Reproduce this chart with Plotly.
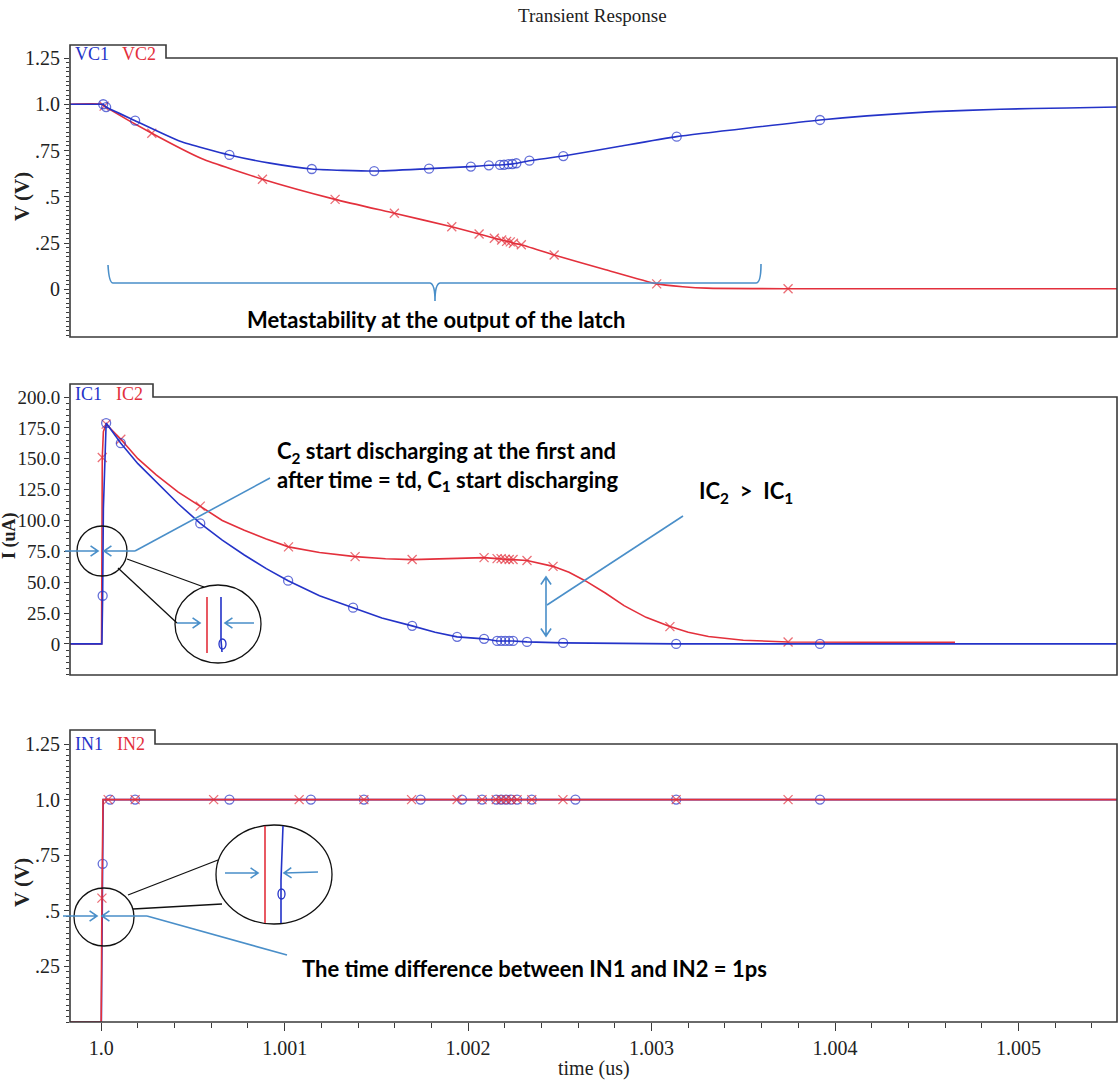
import math
import plotly.graph_objects as go

W, H = 1118, 1081

# ---------------- waveforms (time in us) ----------------
# Latch outputs VC1 / VC2 (V); *_mark flags the points that carry a marker
t_vc1 = [0.99983, 1.0, 1.000011, 1.000027, 1.000185, 1.00043, 1.000699, 1.00092,
         1.001148, 1.001488, 1.001787, 1.002015, 1.002113, 1.002174, 1.002196,
         1.00222, 1.002241, 1.002263, 1.002334, 1.002519, 1.00282, 1.003137,
         1.003918, 1.004174, 1.004534, 1.004899, 1.005264, 1.005537]
vc1 = [1.0, 1.0, 1.0, 0.985, 0.911, 0.80, 0.726, 0.682,
       0.650, 0.639, 0.652, 0.663, 0.670, 0.672, 0.673,
       0.676, 0.677, 0.681, 0.695, 0.720, 0.772, 0.825,
       0.915, 0.937, 0.960, 0.973, 0.980, 0.985]
vc1_mark = [0, 0, 1, 1, 1, 0, 1, 0,
            1, 1, 1, 1, 1, 1, 1,
            1, 1, 1, 1, 1, 0, 1,
            1, 0, 0, 0, 0, 0]

t_vc2 = [0.99983, 1.0, 1.000016, 1.000276, 1.00055, 1.000879, 1.001275, 1.001598,
         1.001911, 1.00206, 1.002143, 1.002183, 1.00221, 1.00223, 1.002247,
         1.00229, 1.002469, 1.00275, 1.003028, 1.00317, 1.0033, 1.003744, 1.005537]
vc2 = [1.0, 1.0, 0.99, 0.843, 0.705, 0.595, 0.486, 0.411,
       0.338, 0.299, 0.276, 0.266, 0.259, 0.256, 0.249,
       0.241, 0.185, 0.105, 0.029, 0.014, 0.006, 0.003, 0.003]
vc2_mark = [0, 0, 1, 1, 0, 1, 1, 1,
            1, 1, 1, 1, 1, 1, 1,
            1, 1, 0, 1, 0, 0, 1, 0]

# Capacitor currents IC1 / IC2 (uA)
t_ic1 = [0.99983, 1.000004, 1.000008, 1.000012, 1.000027, 1.000107, 1.00020, 1.00030,
         1.00042, 1.00054, 1.00066, 1.00078, 1.0009, 1.001019, 1.00119, 1.001373,
         1.00153, 1.001695, 1.00182, 1.00194, 1.002087, 1.002158, 1.00218, 1.002202,
         1.002224, 1.002245, 1.002321, 1.002518, 1.003134, 1.003918, 1.005537]
ic1 = [0, 0, 39, 110, 178.9, 162.6, 146, 131,
       113.5, 97.6, 84, 72, 61, 51.2, 39, 29.3,
       21, 14.6, 9.5, 5.7, 4.1, 2.4, 2.4, 2.4,
       2.4, 2.4, 1.6, 0.8, 0, 0, 0]
ic1_mark = [0, 0, 1, 0, 1, 1, 0, 0,
            0, 1, 0, 0, 0, 1, 0, 1,
            0, 1, 0, 1, 1, 1, 1, 1,
            1, 1, 1, 1, 1, 1, 0]

t_ic2 = [0.99983, 1.000002, 1.000006, 1.000012, 1.000027, 1.000107, 1.00020, 1.00030,
         1.00042, 1.00054, 1.00066, 1.00078, 1.0009, 1.001021, 1.00119, 1.001384,
         1.00155, 1.001695, 1.0019, 1.002087, 1.002158, 1.00218, 1.002202, 1.002224,
         1.002245, 1.002321, 1.002463, 1.00255, 1.00264, 1.00275, 1.00285, 1.00297,
         1.0031, 1.0032, 1.00331, 1.0035, 1.003744, 1.004654]
ic2 = [0, 0, 151, 172, 178, 165.8, 150, 137,
       123, 111.6, 100, 92, 85, 78.6, 74, 70.7,
       69, 68.3, 69, 69.9, 69.1, 69.1, 68.6, 68.3,
       68.3, 67.5, 62.8, 58, 51, 41, 31, 21.5,
       14, 9.5, 6, 3, 1.5, 1.2]
ic2_mark = [0, 0, 1, 0, 1, 1, 0, 0,
            0, 1, 0, 0, 0, 1, 0, 1,
            0, 1, 0, 1, 1, 1, 1, 1,
            1, 1, 1, 0, 0, 0, 0, 0,
            1, 0, 0, 0, 1, 0]

# Latch inputs IN1 / IN2 (V)
t_in1 = [0.99983, 1.000001, 1.000008, 1.000011, 1.000049, 1.000185, 1.000699,
         1.001143, 1.001432, 1.001741, 1.001967, 1.002076, 1.002153, 1.00218,
         1.002207, 1.002234, 1.002267, 1.002347, 1.002585, 1.003134, 1.003918,
         1.005537]
in1 = [0, 0, 0.711, 1.0, 1.0, 1.0, 1.0,
       1.0, 1.0, 1.0, 1.0, 1.0, 1.0, 1.0,
       1.0, 1.0, 1.0, 1.0, 1.0, 1.0, 1.0,
       1.0]
in1_mark = [0, 0, 1, 0, 1, 1, 1,
            1, 1, 1, 1, 1, 1, 1,
            1, 1, 1, 1, 1, 1, 1,
            0]

t_in2 = [0.99983, 1.0, 1.000004, 1.00001, 1.000038, 1.000185, 1.000613,
         1.001079, 1.001432, 1.001692, 1.00194, 1.002076, 1.002153, 1.00218,
         1.002207, 1.002234, 1.002267, 1.002347, 1.002517, 1.003134, 1.003744,
         1.005537]
in2 = [0, 0, 0.557, 1.0, 1.0, 1.0, 1.0,
       1.0, 1.0, 1.0, 1.0, 1.0, 1.0, 1.0,
       1.0, 1.0, 1.0, 1.0, 1.0, 1.0, 1.0,
       1.0]
in2_mark = [0, 0, 1, 0, 1, 1, 1,
            1, 1, 1, 1, 1, 1, 1,
            1, 1, 1, 1, 1, 1, 1,
            0]

# axis ticks
x_ticks = [1.0, 1.001, 1.002, 1.003, 1.004, 1.005]
x_ticktext = ["1.0", "1.001", "1.002", "1.003", "1.004", "1.005"]
v_ticks = [0, 0.25, 0.5, 0.75, 1.0, 1.25]
v_ticktext = ["0", ".25", ".5", ".75", "1.0", "1.25"]
i_ticks = [0, 25, 50, 75, 100, 125, 150, 175, 200]
i_ticktext = ["0", "25.0", "50.0", "75.0", "100.0", "125.0", "150.0", "175.0", "200.0"]
in_ticks = [0.25, 0.5, 0.75, 1.0, 1.25]
in_ticktext = [".25", ".5", ".75", "1.0", "1.25"]

# ---------------- styling ----------------
BLUE = "#2433c8"
RED = "#e3303c"
NOTE = "#4a8fc9"
FRAME = "#3a3a3a"
SERIF = "Liberation Serif"
SANS = "Lato"

X_LEFT, X_RIGHT = 70, 1117
# (top, bottom, tab_top, tab_right) of each plot box, in pixels
BOXES = [(58, 337, 45, 166), (397, 675, 384, 153), (744, 1022, 730, 155)]
X_RANGE = [0.99983, 1.005537]


def pp(x, y):
    """pixel position -> paper coordinates"""
    return x / W, 1 - y / H


def pstr(x, y):
    X, Y = pp(x, y)
    return f"{X:.5f},{Y:.5f}"


def arrow_path(x0, y0, x1, y1, head=9, spread=0.6, both=False):
    def head_at(xa, ya, xb, yb):
        ang = math.atan2(yb - ya, xb - xa)
        w1 = (xb - head * math.cos(ang + spread), yb - head * math.sin(ang + spread))
        w2 = (xb - head * math.cos(ang - spread), yb - head * math.sin(ang - spread))
        return f" M {pstr(*w1)} L {pstr(xb, yb)} L {pstr(*w2)}"
    d = f"M {pstr(x0, y0)} L {pstr(x1, y1)}" + head_at(x0, y0, x1, y1)
    if both:
        d += head_at(x1, y1, x0, y0)
    return d


def polyline(points):
    return "M " + " L ".join(pstr(x, y) for x, y in points)


def trace(t, v, mark, color, symbol, axis, shape="spline"):
    return go.Scatter(
        x=t, y=v, mode="lines+markers", xaxis="x" + axis, yaxis="y" + axis,
        line=dict(color=color, width=1.6, shape=shape, smoothing=0.5),
        marker=dict(symbol=symbol, size=[9 if m else 0 for m in mark],
                    color=color, line=dict(color=color, width=1.3)),
        showlegend=False, hoverinfo="skip",
    )


fig = go.Figure()
fig.add_trace(trace(t_vc2, vc2, vc2_mark, RED, "x-thin-open", ""))
fig.add_trace(trace(t_vc1, vc1, vc1_mark, BLUE, "circle-open", ""))
fig.add_trace(trace(t_ic2, ic2, ic2_mark, RED, "x-thin-open", "2", shape="linear"))
fig.add_trace(trace(t_ic1, ic1, ic1_mark, BLUE, "circle-open", "2", shape="linear"))
fig.add_trace(trace(t_in1, in1, in1_mark, BLUE, "circle-open", "3", shape="linear"))
fig.add_trace(trace(t_in2, in2, in2_mark, RED, "x-thin-open", "3", shape="linear"))

tickfont = dict(family=SERIF, size=20, color="#222")
x_dom = [X_LEFT / W, X_RIGHT / W]


def ydom(i):
    top, bottom = BOXES[i][0], BOXES[i][1]
    return [1 - bottom / H, 1 - top / H]


common_x = dict(domain=x_dom, range=X_RANGE, showgrid=False, zeroline=False,
                showline=False, automargin=False)
common_y = dict(showgrid=False, zeroline=False, showline=False, automargin=False,
                ticks="outside", ticklen=5, tickwidth=1.2, tickcolor=FRAME,
                tickfont=tickfont, tickmode="array")

fig.update_layout(
    width=W, height=H, margin=dict(l=0, r=0, t=0, b=0),
    paper_bgcolor="white", plot_bgcolor="white",
    xaxis=dict(anchor="y", showticklabels=False, ticks="", **common_x),
    xaxis2=dict(anchor="y2", showticklabels=False, ticks="", **common_x),
    xaxis3=dict(anchor="y3", tickmode="array", tickvals=x_ticks, ticktext=x_ticktext,
                ticks="outside", ticklen=8, tickwidth=1.2, tickcolor=FRAME,
                tickfont=tickfont,
                minor=dict(tickmode="linear", tick0=1.0, dtick=0.0002, ticks="outside",
                           ticklen=5, tickcolor=FRAME, tickwidth=1),
                **common_x),
    yaxis=dict(anchor="x", domain=ydom(0), range=[-0.258, 1.25],
               tickvals=v_ticks, ticktext=v_ticktext,
               minor=dict(tickmode="linear", tick0=0, dtick=0.025, ticks="outside",
                          ticklen=3, tickcolor=FRAME),
               **common_y),
    yaxis2=dict(anchor="x2", domain=ydom(1), range=[-25.2, 200],
                tickvals=i_ticks, ticktext=i_ticktext,
                minor=dict(tickmode="linear", tick0=0, dtick=5, ticks="outside",
                           ticklen=3, tickcolor=FRAME),
                **{**common_y, "tickfont": dict(family=SERIF, size=19, color="#222")}),
    yaxis3=dict(anchor="x3", domain=ydom(2), range=[0, 1.25],
                tickvals=in_ticks, ticktext=in_ticktext,
                minor=dict(tickmode="linear", tick0=0, dtick=0.025, ticks="outside",
                           ticklen=3, tickcolor=FRAME),
                **common_y),
)

shapes = []
annotations = []

# plot frames with the signal-name tab on the upper left
for top, bottom, tab_top, tab_right in BOXES:
    shapes.append(dict(
        type="path", xref="paper", yref="paper", layer="above",
        path=polyline([(X_LEFT, tab_top), (tab_right, tab_top), (tab_right, top),
                       (X_RIGHT, top), (X_RIGHT, bottom), (X_LEFT, bottom)]) + " Z",
        line=dict(color=FRAME, width=1.6)))


def text(x, y, s, size, color="black", family=SERIF, weight="normal",
         xanchor="center", angle=0, align="center"):
    X, Y = pp(x, y)
    annotations.append(dict(
        x=X, y=Y, xref="paper", yref="paper", text=s, showarrow=False,
        xanchor=xanchor, yanchor="middle", textangle=angle, align=align,
        font=dict(family=family, size=size, color=color, weight=weight)))


# titles
text(592, 16, "Transient Response", 19, "#222")
text(594, 1068, "time (us)", 20, "#222")
text(22, 197, "V (V)", 21, "#222", weight="bold", angle=-90)
text(9, 536, "I (uA)", 18, "#222", weight="bold", angle=-90)
text(22, 883, "V (V)", 21, "#222", weight="bold", angle=-90)

# signal names inside the tabs
text(92, 54, "VC1", 18, BLUE)
text(139, 54, "VC2", 18, RED)
text(88, 394, "IC1", 18, BLUE)
text(129, 394, "IC2", 18, RED)
text(89, 744, "IN1", 18, BLUE)
text(131, 744, "IN2", 18, RED)

note_line = dict(color=NOTE, width=1.6)
black_line = dict(color="#111", width=1.3)


def path_shape(d, line):
    shapes.append(dict(type="path", xref="paper", yref="paper", path=d, line=line,
                       layer="above"))


def ellipse(cx, cy, rx, ry, line=black_line):
    x0, y0 = pp(cx - rx, cy + ry)
    x1, y1 = pp(cx + rx, cy - ry)
    shapes.append(dict(type="circle", xref="paper", yref="paper",
                       x0=x0, y0=y0, x1=x1, y1=y1, line=line, layer="above"))


# --- top panel: brace over the metastable interval ---
brace = (f"M {pstr(108, 265)} Q {pstr(109, 283)} {pstr(113, 283)} "
         f"L {pstr(430, 283)} Q {pstr(435, 284)} {pstr(435, 301)} "
         f"Q {pstr(435, 284)} {pstr(440, 283)} L {pstr(756, 283)} "
         f"Q {pstr(761, 283)} {pstr(761, 264)}")
path_shape(brace, note_line)
text(436, 319, "Metastability at the output of the latch", 22, family=SANS, weight="bold")

# --- middle panel: discharge start detail ---
ellipse(102, 551, 25, 25)
path_shape(arrow_path(65, 551, 98, 551), note_line)
path_shape(arrow_path(135, 551, 104, 551), note_line)
path_shape(polyline([(135, 551), (270, 478)]), note_line)
path_shape(polyline([(127, 559), (204, 587)]), black_line)
path_shape(polyline([(118, 568), (177, 623)]), black_line)
ellipse(218, 624, 43, 39)
path_shape(polyline([(207, 597), (207, 653)]), dict(color=RED, width=1.6))
path_shape(polyline([(221, 597), (221, 640), (222, 652)]), dict(color=BLUE, width=1.6))
ellipse(222.5, 644, 3.5, 5, dict(color=BLUE, width=1.3))
path_shape(arrow_path(177, 623, 200, 623), note_line)
path_shape(arrow_path(254, 623, 225, 623), note_line)
text(275, 466, "C<sub>2</sub> start discharging at the first and<br>"
     "after time = td, C<sub>1</sub> start discharging", 22, family=SANS,
     weight="bold", xanchor="left", align="left")

# current gap between the two branches
path_shape(arrow_path(546, 577, 546, 636, both=True), note_line)
path_shape(polyline([(547, 605), (683, 516)]), note_line)
text(697, 492, "IC<sub>2</sub>  >  IC<sub>1</sub>", 22, family=SANS, weight="bold",
     xanchor="left")

# --- bottom panel: input skew detail ---
ellipse(104, 917, 30, 29)
path_shape(arrow_path(63, 916, 97, 916), note_line)
path_shape(arrow_path(147, 916, 102, 916), note_line)
path_shape(polyline([(147, 916), (287, 955)]), note_line)
path_shape(polyline([(128, 895), (218, 860)]), black_line)
path_shape(polyline([(133, 909), (222, 904)]), black_line)
ellipse(274, 874.5, 58, 49.5)
path_shape(polyline([(265, 826), (265, 923)]), dict(color=RED, width=1.6))
path_shape(polyline([(283, 826), (281, 880), (281, 923)]), dict(color=BLUE, width=1.6))
ellipse(281.5, 894, 3.5, 5, dict(color=BLUE, width=1.3))
path_shape(arrow_path(225, 873, 258, 873), note_line)
path_shape(arrow_path(318, 872, 284, 873), note_line)
text(300, 968, "The time difference between IN1 and IN2 = 1ps", 22, family=SANS,
     weight="bold", xanchor="left")

fig.update_layout(shapes=shapes, annotations=annotations)
fig.write_html("out.html")
